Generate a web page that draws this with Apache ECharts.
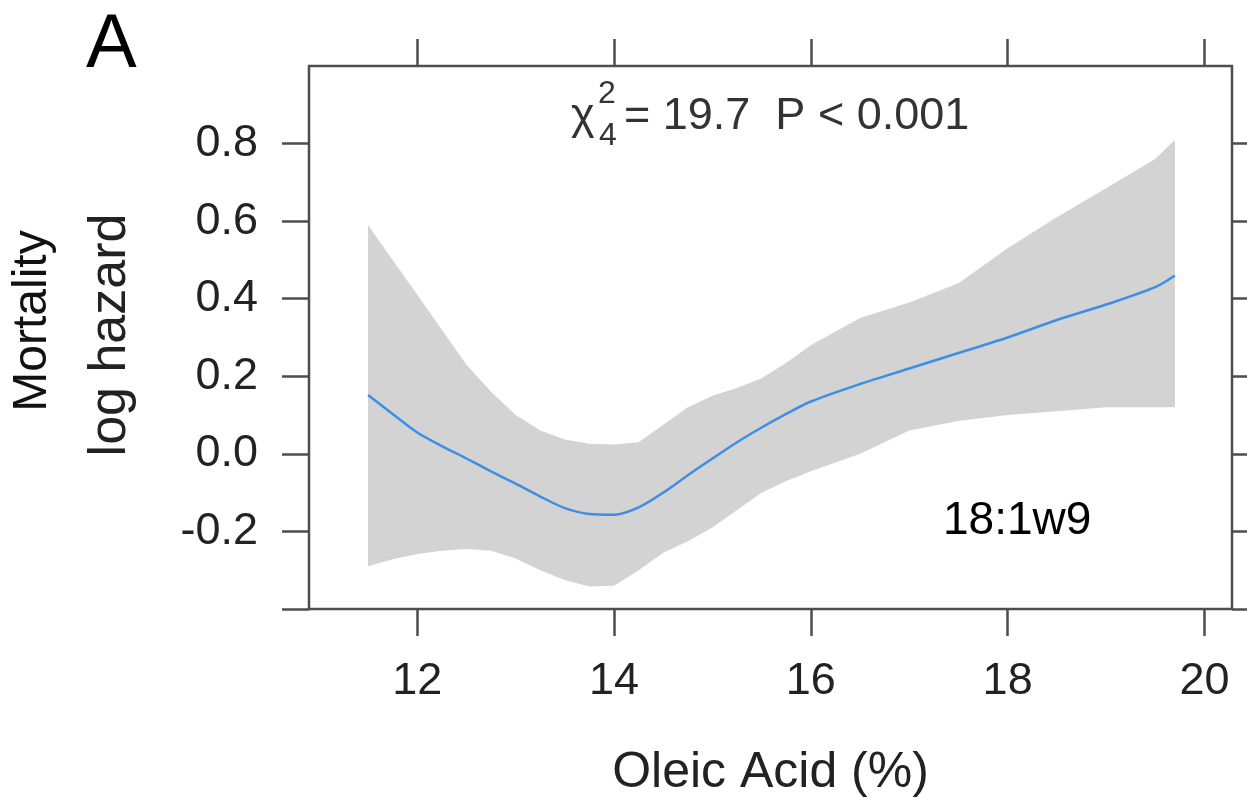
<!DOCTYPE html>
<html>
<head>
<meta charset="utf-8">
<script src="https://cdn.jsdelivr.net/npm/echarts@6/dist/echarts.min.js"></script>
<style>
    html, body { margin: 0; padding: 0; background: #fff; }
    #chart { width: 1247px; height: 802px; }
</style>
</head>
<body>
<div id="chart"></div>
<script>
(function () {

    // oleic acid (%) and the fitted log hazard with its band
    var xs    = [11.5, 11.75, 12, 12.25, 12.5, 12.75, 13, 13.25, 13.5, 13.75, 14, 14.25, 14.5, 14.75, 15, 15.25, 15.5, 15.75, 16, 16.5, 17, 17.5, 18, 18.5, 19, 19.5, 19.7];
    var fit   = [0.152, 0.103, 0.055, 0.02, -0.012, -0.045, -0.077, -0.11, -0.14, -0.155, -0.157, -0.138, -0.10, -0.055, -0.012, 0.03, 0.068, 0.103, 0.135, 0.18, 0.22, 0.26, 0.30, 0.345, 0.385, 0.43, 0.46];
    var upper = [0.59, 0.50, 0.41, 0.32, 0.23, 0.16, 0.10, 0.06, 0.037, 0.026, 0.024, 0.03, 0.075, 0.12, 0.15, 0.17, 0.195, 0.235, 0.28, 0.35, 0.39, 0.44, 0.53, 0.61, 0.685, 0.76, 0.81];
    var lower = [-0.29, -0.272, -0.258, -0.25, -0.245, -0.25, -0.27, -0.30, -0.325, -0.342, -0.34, -0.30, -0.255, -0.225, -0.19, -0.145, -0.10, -0.07, -0.045, 0.0, 0.06, 0.085, 0.10, 0.11, 0.12, 0.12, 0.12];

    var xTicks = [12, 14, 16, 18, 20];
    var yTicks = [-0.4, -0.2, 0, 0.2, 0.4, 0.6, 0.8];
    var yLabels = [-0.2, 0, 0.2, 0.4, 0.6, 0.8];

    var font = 'Liberation Sans, Arial, sans-serif';
    var axisColor = '#4d4d4d';

    var fitData = xs.map((x, i) => [x, fit[i]]);

    var tick = { show: true, inside: false, length: 27, lineStyle: { color: axisColor, width: 2.5 } };

    function xAxis(pos, labels) {
        return {
            type: 'value', position: pos, min: 10.9, max: 20.28,
            axisLine: { show: false, onZero: false },
            splitLine: { show: false },
            axisTick: Object.assign({ customValues: xTicks }, tick),
            axisLabel: {
                show: labels, customValues: xTicks, margin: 50,
                fontSize: 45, fontFamily: font, color: '#222'
            }
        };
    }

    function yAxis(pos, labels) {
        return {
            type: 'value', position: pos, min: -0.4, max: 1.0,
            axisLine: { show: false, onZero: false },
            splitLine: { show: false },
            axisTick: Object.assign({ customValues: yTicks }, tick),
            axisLabel: {
                show: labels, customValues: yLabels, margin: 51,
                fontSize: 45, fontFamily: font, color: '#222',
                formatter: v => v.toFixed(1)
            }
        };
    }

    var bottomX = xAxis('bottom', true);
    bottomX.name = 'Oleic Acid (%)';
    bottomX.nameLocation = 'middle';
    bottomX.nameGap = 139;
    bottomX.nameTextStyle = { fontSize: 50, fontFamily: font, color: '#222' };

    var option = {
        animation: false,
        backgroundColor: '#fff',
        grid: {
            left: 309, top: 66, width: 923, height: 543,
            show: true, borderColor: axisColor, borderWidth: 2.5,
            containLabel: false, outerBoundsMode: 'none'
        },
        xAxis: [bottomX, xAxis('top', false)],
        yAxis: [yAxis('left', true), yAxis('right', false)],
        series: [
            {
                // confidence band: upper edge out, lower edge back
                type: 'custom', silent: true,
                data: [[xs[0], lower[0]]],
                renderItem: function (params, api) {
                    var pts = xs.map((x, i) => api.coord([x, upper[i]]));
                    for (var i = xs.length - 1; i >= 0; i--) {
                        pts.push(api.coord([xs[i], lower[i]]));
                    }
                    return { type: 'polygon', shape: { points: pts }, style: { fill: '#d3d3d3' } };
                }
            },
            {
                type: 'line', data: fitData,
                smooth: 0.3, showSymbol: false,
                lineStyle: { color: '#3d8ee6', width: 2.5 }
            }
        ],
        graphic: [
            { type: 'text', x: 86, y: 46, style: { text: 'A', fontSize: 76, fontFamily: font, fill: '#000', align: 'left', verticalAlign: 'middle' } },
            { type: 'text', x: 33, y: 321, rotation: Math.PI / 2, style: { text: 'Mortality', fontSize: 48, fontFamily: font, fill: '#111', align: 'center', verticalAlign: 'middle' } },
            { type: 'text', x: 111, y: 335, rotation: Math.PI / 2, style: { text: 'log hazard', fontSize: 52, fontFamily: font, fill: '#222', align: 'center', verticalAlign: 'middle' } },
            { type: 'text', x: 571, y: 117, style: { text: 'χ', fontSize: 45, fontFamily: font, fill: '#333', align: 'left', verticalAlign: 'middle' } },
            { type: 'text', x: 607, y: 94, style: { text: '2', fontSize: 32, fontFamily: font, fill: '#333', align: 'center', verticalAlign: 'middle' } },
            { type: 'text', x: 608, y: 136, style: { text: '4', fontSize: 32, fontFamily: font, fill: '#333', align: 'center', verticalAlign: 'middle' } },
            { type: 'text', x: 624, y: 117, style: { text: '= 19.7  P < 0.001', fontSize: 45, fontFamily: font, fill: '#333', align: 'left', verticalAlign: 'middle' } },
            { type: 'text', x: 943, y: 521, style: { text: '18:1w9', fontSize: 46, fontFamily: font, fill: '#000', align: 'left', verticalAlign: 'middle' } }
        ]
    };

    var myChart = echarts.init(document.getElementById('chart'));
    myChart.setOption(option);

})();
</script>
</body>
</html>
